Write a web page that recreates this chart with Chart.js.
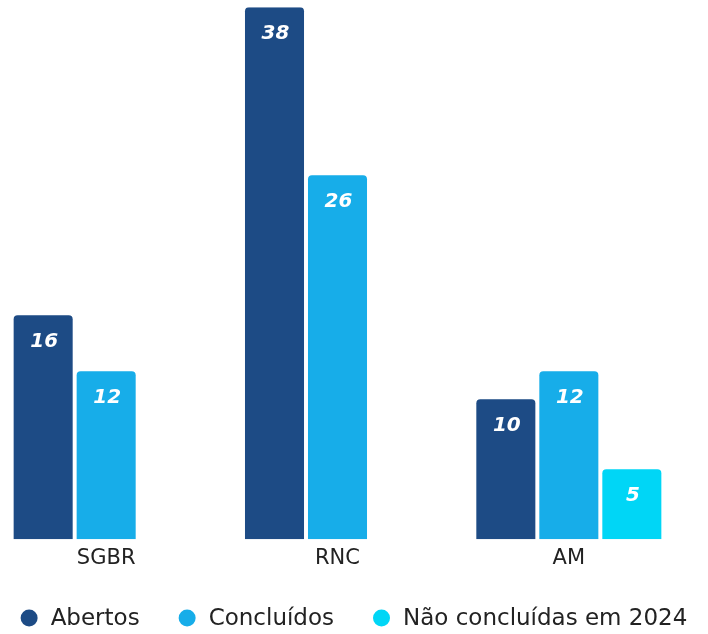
<!DOCTYPE html>
<html>
<head>
<meta charset="utf-8">
<script src="https://cdn.jsdelivr.net/npm/chart.js@4.4.1/dist/chart.umd.min.js"></script>
<style>
  html, body { margin: 0; padding: 0; background: #ffffff; overflow: hidden; }
  #wrap { position: relative; width: 708px; height: 634px; overflow: hidden; }
  #c { position: absolute; left: -10px; top: 0; }
</style>
</head>
<body>
<div id="wrap"><canvas id="c" width="718" height="634"></canvas></div>
<script>
const categories = ['SGBR', 'RNC', 'AM'];
const seriesNames = ['Abertos', 'Concluídos', 'Não concluídas em 2024'];
const abertos = [16, 38, 10];
const concluidos = [12, 26, 12];
const naoConcluidas = [null, null, 5];
const seriesColors = ['#1d4b85', '#17ade9', '#00d6f6'];

const FONT = '"DejaVu Sans", "Noto Sans", sans-serif';
const CANVAS_SHIFT = 10; // canvas starts 10px left of the page

const valueLabels = {
  id: 'valueLabels',
  afterDatasetsDraw(chart) {
    const ctx = chart.ctx;
    ctx.save();
    ctx.font = 'italic bold 20px ' + FONT;
    ctx.fillStyle = '#ffffff';
    ctx.textAlign = 'center';
    ctx.textBaseline = 'middle';
    chart.data.datasets.forEach((ds, di) => {
      const meta = chart.getDatasetMeta(di);
      meta.data.forEach((el, i) => {
        const v = ds.data[i];
        if (v === null || v === undefined) return;
        ctx.fillText(String(v), el.x + 1, el.y + 26.5);
      });
    });
    ctx.restore();
  }
};

const customLegend = {
  id: 'customLegend',
  afterDraw(chart) {
    const ctx = chart.ctx;
    ctx.save();
    ctx.font = '23px ' + FONT;
    ctx.textBaseline = 'middle';
    ctx.textAlign = 'left';
    const r = 8.5, gapText = 13, gapItem = 39;
    const items = chart.data.datasets.map(ds => ({ text: ds.label, color: ds.backgroundColor, w: ctx.measureText(ds.label).width }));
    let total = 0;
    items.forEach((it, i) => { total += 2 * r + gapText + it.w + (i < items.length - 1 ? gapItem : 0); });
    let x = CANVAS_SHIFT + (708 - total) / 2;
    const y = 618;
    items.forEach(it => {
      ctx.beginPath();
      ctx.fillStyle = it.color;
      ctx.arc(x + r, y, r, 0, Math.PI * 2);
      ctx.fill();
      ctx.fillStyle = '#222222';
      ctx.fillText(it.text, x + 2 * r + gapText, y + 1);
      x += 2 * r + gapText + it.w + gapItem;
    });
    ctx.restore();
  }
};

new Chart(document.getElementById('c'), {
  type: 'bar',
  data: {
    labels: categories,
    datasets: [
      { label: seriesNames[0], data: abertos, backgroundColor: seriesColors[0] },
      { label: seriesNames[1], data: concluidos, backgroundColor: seriesColors[1] },
      { label: seriesNames[2], data: naoConcluidas, backgroundColor: seriesColors[2] }
    ]
  },
  options: {
    responsive: false,
    animation: false,
    devicePixelRatio: 1,
    layout: { padding: { left: 0.5, right: 23.5, top: 7.3, bottom: 55.6 } },
    datasets: {
      bar: { categoryPercentage: 0.817, barPercentage: 0.937, borderRadius: 4, borderSkipped: 'bottom', skipNull: false }
    },
    plugins: {
      legend: { display: false },
      tooltip: { enabled: false }
    },
    scales: {
      x: {
        grid: { display: false, drawTicks: false },
        border: { display: false },
        ticks: { color: '#222222', font: { family: FONT, size: 21 }, padding: 7, maxRotation: 0 }
      },
      y: {
        display: false,
        min: 0,
        max: 38
      }
    }
  },
  plugins: [valueLabels, customLegend]
});
</script>
</body>
</html>
